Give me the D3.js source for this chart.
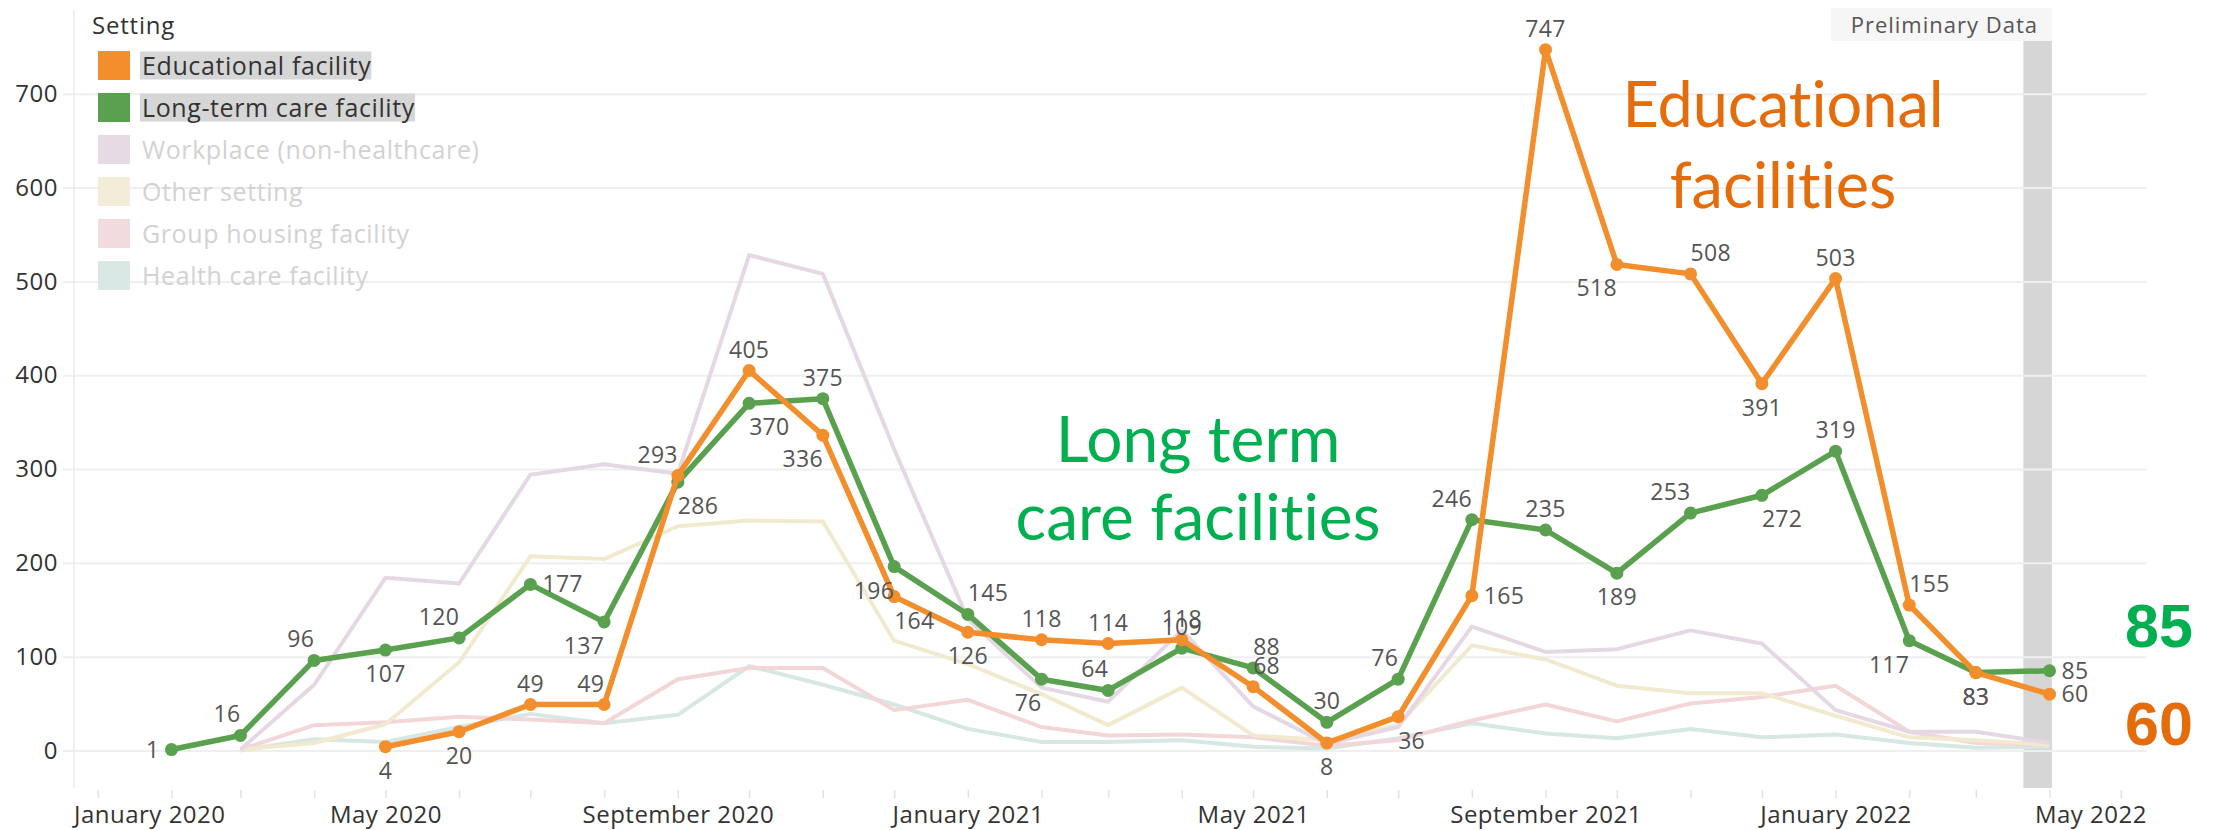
<!DOCTYPE html>
<html>
<head>
<meta charset="utf-8">
<script src="https://cdn.jsdelivr.net/npm/d3@7"></script>
<style>
  body { margin: 0; background: #fff; }
  svg text { font-family: "Open Sans", sans-serif; font-variant-ligatures: none; }
</style>
</head>
<body>
<svg id="chart"></svg>
<script>
const width = 2216;
const height = 830;

// months with at least one value (Feb 2020 .. Apr 2022)
const months = [
  '2020-02', '2020-03', '2020-04', '2020-05', '2020-06', '2020-07', '2020-08', '2020-09', '2020-10', '2020-11', '2020-12',
  '2021-01', '2021-02', '2021-03', '2021-04', '2021-05', '2021-06', '2021-07', '2021-08', '2021-09', '2021-10', '2021-11', '2021-12',
  '2022-01', '2022-02', '2022-03', '2022-04'
];

const ltcFacility = [1, 16, 96, 107, 120, 177, 137, 286, 370, 375, 196,
  145, 76, 64, 109, 88, 30, 76, 246, 235, 189, 253, 272,
  319, 117, 83, 85];
const eduFacility = [null, null, null, 4, 20, 49, 49, 293, 405, 336, 164,
  126, 118, 114, 118, 68, 8, 36, 165, 747, 518, 508, 391,
  503, 155, 83, 60];
const workplace = [null, 1, 70, 184, 178, 294, 305, 295, 528, 508, 321,
  140, 67, 52, 128, 47, 7, 25, 132, 105, 108, 128, 114,
  43, 20, 20, 8];
const otherSetting = [null, 1, 8, 28, 94, 207, 204, 239, 245, 244, 117,
  92, 60, 27, 67, 16, 11, 27, 112, 97, 69, 61, 61,
  37, 14, 11, 6];
const groupHousing = [null, 1, 27, 30, 36, 33, 29, 76, 88, 88, 43,
  54, 25, 16, 17, 14, 5, 11, 32, 49, 31, 50, 57,
  69, 20, 8, 6];
const healthCare = [null, 0, 12, 9, 25, 39, 29, 38, 90, 70, 49,
  23, 9, 9, 11, 4, 2, 13, 29, 18, 13, 23, 14,
  17, 8, 3, 4];

const yTicks = [0, 100, 200, 300, 400, 500, 600, 700];
const xLabelMonths = ['2020-01', '2020-05', '2020-09', '2021-01', '2021-05', '2021-09', '2022-01', '2022-05'];
const legendLabels = ['Educational facility', 'Long-term care facility', 'Workplace (non-healthcare)',
  'Other setting', 'Group housing facility', 'Health care facility'];

// where each data label sits relative to its point
const ltcLabelPos = ['l', 'al', 'al', 'b', 'al', 'r', 'bl', 'br', 'br', 'a', 'bl',
  'ar', 'bl', 'al', 'a', 'ar', 'a', 'al', 'al', 'a', 'b', 'al', 'br',
  'a', 'bl', 'b', 'r'];
const eduLabelPos = [null, null, null, 'b', 'b', 'a', 'al', 'al', 'a', 'bl', 'br',
  'b', 'a', 'a', 'a', 'ar', 'b', 'br', 'r', 'a', 'bl', 'ar', 'b',
  'a', 'ar', 'b', 'r'];

const parseMonth = d3.timeParse('%Y-%m');

const svg = d3.select('#chart')
  .attr('width', width)
  .attr('height', height);

const plotLeft = 74, plotRight = 2147, plotTop = 10, plotBottom = 788;

const x = d3.scaleTime()
  .domain([new Date(2019, 11, 22), new Date(2022, 4, 12)])
  .range([plotLeft, plotRight]);

const y = d3.scaleLinear()
  .domain([-40, 785])
  .range([plotBottom, 14]);

// preliminary data band
svg.append('rect')
  .attr('x', x(new Date(2022, 2, 21)))
  .attr('width', x(new Date(2022, 3, 2)) - x(new Date(2022, 2, 21)))
  .attr('y', plotTop)
  .attr('height', plotBottom - plotTop)
  .attr('fill', '#d6d6d6');

// y gridlines + labels
const yAxis = svg.append('g')
  .attr('transform', 'translate(63,0)')
  .call(d3.axisLeft(y).tickValues(yTicks).tickSize(-(plotRight - 63)).tickPadding(5));
yAxis.select('.domain').remove();
yAxis.selectAll('line').attr('stroke', '#efefef').attr('stroke-width', 2);
yAxis.selectAll('text')
  .attr('fill', '#333')
  .style('font-size', '24px')
  .style('letter-spacing', '0.5px');

// vertical axis line
svg.append('line')
  .attr('x1', plotLeft).attr('x2', plotLeft)
  .attr('y1', plotTop).attr('y2', plotBottom)
  .attr('stroke', '#ebebeb').attr('stroke-width', 1.5);

// month ticks
const tickAxis = svg.append('g')
  .attr('transform', `translate(0,${plotBottom + 2})`)
  .call(d3.axisBottom(x)
    .tickValues(d3.timeMonth.range(new Date(2020, 0, 1), new Date(2022, 4, 2)))
    .tickSize(8).tickFormat(''));
tickAxis.select('.domain').remove();
tickAxis.selectAll('line').attr('stroke', '#e2e2e2').attr('stroke-width', 1.5);

// x labels
const xAxis = svg.append('g')
  .attr('transform', `translate(0,${plotBottom})`)
  .call(d3.axisBottom(x)
    .tickValues(xLabelMonths.map(parseMonth))
    .tickSize(0).tickPadding(18)
    .tickFormat(d3.timeFormat('%B %Y')));
xAxis.select('.domain').remove();
xAxis.selectAll('text')
  .attr('fill', '#333')
  .style('font-size', '24px')
  .style('letter-spacing', '0.5px')
  .each(function () {
    // keep the end labels inside the pane, like Tableau does
    const b = this.getBBox();
    const tx = +d3.select(this.parentNode).attr('transform').match(/translate\(([-\d.]+)/)[1];
    const left = tx + b.x, right = tx + b.x + b.width;
    if (left < plotLeft - 2) d3.select(this).attr('x', plotLeft - 2 - left);
    if (right > plotRight) d3.select(this).attr('x', plotRight - right);
  });

// series lines
const lineFor = vals => d3.line()
  .defined(d => d != null)
  .x((d, i) => x(parseMonth(months[i])))
  .y(d => y(d))(vals);

const faded = [
  { vals: healthCare, color: '#d6e7e4' },
  { vals: groupHousing, color: '#f3d6d8' },
  { vals: otherSetting, color: '#f1eacf' },
  { vals: workplace, color: '#e5d8e4' }
];
faded.forEach(s => {
  svg.append('path')
    .attr('d', lineFor(s.vals))
    .attr('fill', 'none')
    .attr('stroke', s.color)
    .attr('stroke-width', 4)
    .attr('stroke-linejoin', 'round');
});

const main = [
  { vals: ltcFacility, pos: ltcLabelPos, color: '#59a14f' },
  { vals: eduFacility, pos: eduLabelPos, color: '#f28e2b' }
];
main.forEach(s => {
  svg.append('path')
    .attr('d', lineFor(s.vals))
    .attr('fill', 'none')
    .attr('stroke', s.color)
    .attr('stroke-width', 5.5)
    .attr('stroke-linejoin', 'round');
  svg.append('g').selectAll('circle')
    .data(s.vals.map((v, i) => ({ v, i })).filter(d => d.v != null))
    .enter().append('circle')
    .attr('cx', d => x(parseMonth(months[d.i])))
    .attr('cy', d => y(d.v))
    .attr('r', 6.5)
    .attr('fill', s.color);
});

// data labels
main.forEach(s => {
  svg.append('g').selectAll('text')
    .data(s.vals.map((v, i) => ({ v, i, p: s.pos[i] })).filter(d => d.v != null))
    .enter().append('text')
    .attr('x', d => {
      const px = x(parseMonth(months[d.i]));
      if (d.p === 'l') return px - 12;
      if (d.p === 'r') return px + 12;
      return px;
    })
    .attr('y', d => {
      const py = y(d.v);
      if (d.p === 'l' || d.p === 'r') return py + 8;
      if (d.p[0] === 'a') return py - 13;
      return py + 32;
    })
    .attr('text-anchor', d => {
      if (d.p === 'l' || d.p === 'al' || d.p === 'bl') return 'end';
      if (d.p === 'r' || d.p === 'ar' || d.p === 'br') return 'start';
      return 'middle';
    })
    .attr('fill', '#555')
    .style('font-size', '23px')
    .style('letter-spacing', '0.3px')
    .text(d => d.v);
});

// preliminary data label
svg.append('rect')
  .attr('x', 1831).attr('y', 8)
  .attr('width', 2052 - 1831).attr('height', 33)
  .attr('fill', '#f6f6f6');
svg.append('text')
  .attr('x', 2038).attr('y', 33)
  .attr('text-anchor', 'end')
  .attr('fill', '#555')
  .style('font-size', '22px')
  .style('letter-spacing', '1px')
  .text('Preliminary Data');

// legend
const legendColors = ['#f28e2b', '#59a14f', '#e6dae5', '#f3ecd8', '#f2dbdc', '#d9e8e5'];
const legend = svg.append('g');
legend.append('text')
  .attr('x', 92).attr('y', 34)
  .attr('fill', '#333')
  .style('font-size', '24px')
  .style('letter-spacing', '0.8px')
  .text('Setting');
legendLabels.forEach((lab, i) => {
  const cy = 65.5 + i * 42;
  const row = legend.append('g');
  const active = i < 2;
  const hl = row.append('rect').attr('fill', '#d6d6d6');
  row.append('rect')
    .attr('x', 98).attr('y', cy - 14.5)
    .attr('width', 32).attr('height', 29)
    .attr('fill', legendColors[i]);
  const t = row.append('text')
    .attr('x', 142).attr('y', cy + 9)
    .attr('fill', active ? '#333' : '#d2d2d2')
    .style('font-size', '25px')
    .style('letter-spacing', '0.6px')
    .text(lab);
  if (active) {
    const b = t.node().getBBox();
    hl.attr('x', 140).attr('y', cy - 14).attr('width', b.width + 2).attr('height', 28);
  } else {
    hl.remove();
  }
});

// annotations
const note = (txt, cx, base, color, size) => svg.append('text')
  .attr('x', cx).attr('y', base)
  .attr('text-anchor', 'middle')
  .attr('fill', color)
  .style('font-family', 'Lato, sans-serif')
  .style('font-size', size + 'px')
  .text(txt);
note('Long term', 1198, 462, '#00b050', 64);
note('care facilities', 1198, 540, '#00b050', 64);
note('Educational', 1783, 127, '#e46c0a', 63);
note('facilities', 1783, 208, '#e46c0a', 63);

svg.append('text')
  .attr('x', 2125).attr('y', 647)
  .attr('fill', '#00b050')
  .style('font-family', '"Liberation Sans", Arial, sans-serif')
  .style('font-weight', 'bold')
  .style('font-size', '61px')
  .text('85');
svg.append('text')
  .attr('x', 2125).attr('y', 745)
  .attr('fill', '#e46c0a')
  .style('font-family', '"Liberation Sans", Arial, sans-serif')
  .style('font-weight', 'bold')
  .style('font-size', '61px')
  .text('60');
</script>
</body>
</html>
